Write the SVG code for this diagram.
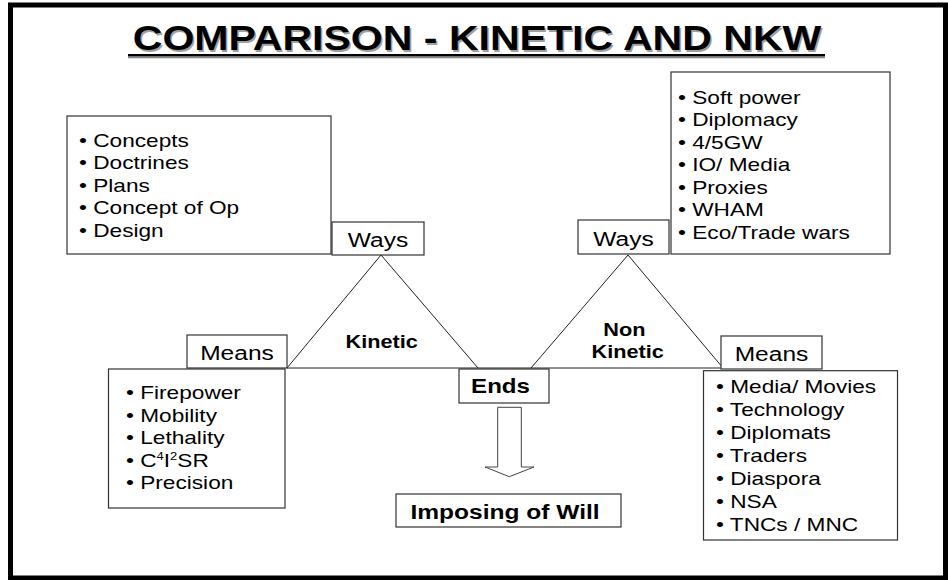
<svg xmlns="http://www.w3.org/2000/svg" width="948" height="580" viewBox="0 0 948 580">
<style>
  .box { fill: #fff; stroke: #333; stroke-width: 1.2; }
  .ln { fill: none; stroke: #222; stroke-width: 1; }
  text { font-family: "Liberation Sans", Arial, sans-serif; fill: #000; }
  .body { font-size: 19.2px; }
  .lbl { font-size: 20.8px; text-anchor: middle; }
  .bold { font-weight: bold; text-anchor: middle; }
  .title { font-size: 34.5px; font-weight: bold; text-anchor: middle; }
</style>
<rect x="0" y="0" width="948" height="580" fill="#fff"/>
<rect x="10.5" y="5" width="935" height="573" fill="none" stroke="#000" stroke-width="5"/>

<g id="title">
  <text class="title" transform="translate(478.5 51.5) scale(1.19 1)" style="fill:#a0a0a0">COMPARISON - KINETIC AND NKW</text>
  <text class="title" transform="translate(477 50) scale(1.19 1)">COMPARISON - KINETIC AND NKW</text>
  <rect x="128" y="56.3" width="697" height="2" fill="#888"/>
  <rect x="128" y="54" width="697" height="2.3" fill="#000"/>
</g>

<g id="connectors">
  <line class="ln" x1="287" y1="368" x2="723" y2="368"/>
  <polyline class="ln" points="287,368 381,255 478,368"/>
  <polyline class="ln" points="531,368 628,255 723,368"/>
  <polygon points="497.7,407.3 521.3,407.3 521.3,467 534,467 509.3,476.7 485,467 497.7,467" fill="#fff" stroke="#444" stroke-width="1"/>
</g>

<g id="ways-kinetic-list">
  <rect class="box" x="67" y="116" width="264" height="138"/>
  <text class="body" transform="translate(79 147) scale(1.18 1)">
    <tspan x="0" y="0">• Concepts</tspan>
    <tspan x="0" y="22.5">• Doctrines</tspan>
    <tspan x="0" y="45">• Plans</tspan>
    <tspan x="0" y="67.5">• Concept of Op</tspan>
    <tspan x="0" y="90">• Design</tspan>
  </text>
</g>

<g id="ways-kinetic">
  <rect class="box" x="332" y="222" width="92" height="33"/>
  <text class="lbl" transform="translate(378 247) scale(1.18 1)">Ways</text>
</g>

<g id="ways-nonkinetic">
  <rect class="box" x="578" y="220" width="91" height="34"/>
  <text class="lbl" transform="translate(623.5 245.5) scale(1.18 1)">Ways</text>
</g>

<g id="ways-nonkinetic-list">
  <rect class="box" x="671" y="72" width="219" height="182"/>
  <text class="body" transform="translate(678 103.5) scale(1.18 1)">
    <tspan x="0" y="0">• Soft power</tspan>
    <tspan x="0" y="22.6">• Diplomacy</tspan>
    <tspan x="0" y="45.2">• 4/5GW</tspan>
    <tspan x="0" y="67.8">• IO/ Media</tspan>
    <tspan x="0" y="90.4">• Proxies</tspan>
    <tspan x="0" y="113">• WHAM</tspan>
    <tspan x="0" y="135.6">• Eco/Trade wars</tspan>
  </text>
</g>

<g id="kinetic-label">
  <text class="bold" style="font-size:18.4px" transform="translate(381.7 348) scale(1.18 1)">Kinetic</text>
</g>

<g id="nonkinetic-label">
  <text class="bold" style="font-size:18.4px" transform="translate(624.3 336) scale(1.18 1)">Non</text>
  <text class="bold" style="font-size:18.4px" transform="translate(627.7 358.3) scale(1.18 1)">Kinetic</text>
</g>

<g id="means-kinetic">
  <rect class="box" x="187" y="335" width="100" height="33"/>
  <text class="lbl" transform="translate(237 360) scale(1.18 1)">Means</text>
</g>

<g id="means-kinetic-list">
  <rect class="box" x="108.5" y="369" width="176.5" height="139"/>
  <text class="body" transform="translate(126 399) scale(1.18 1)">
    <tspan x="0" y="0">• Firepower</tspan>
    <tspan x="0" y="22.6">• Mobility</tspan>
    <tspan x="0" y="45.2">• Lethality</tspan>
    <tspan x="0" y="67.8">• C<tspan dy="-7" style="font-size:11px">4</tspan><tspan dy="7">I</tspan><tspan dy="-7" style="font-size:11px">2</tspan><tspan dy="7">SR</tspan></tspan>
    <tspan x="0" y="90.4">• Precision</tspan>
  </text>
</g>

<g id="means-nonkinetic">
  <rect class="box" x="721" y="336" width="101" height="33"/>
  <text class="lbl" transform="translate(771.5 361) scale(1.18 1)">Means</text>
</g>

<g id="means-nonkinetic-list">
  <rect class="box" x="703.5" y="370.7" width="194" height="169.3"/>
  <text class="body" transform="translate(716 393.3) scale(1.18 1)">
    <tspan x="0" y="0">• Media/ Movies</tspan>
    <tspan x="0" y="22.95">• Technology</tspan>
    <tspan x="0" y="45.9">• Diplomats</tspan>
    <tspan x="0" y="68.85">• Traders</tspan>
    <tspan x="0" y="91.8">• Diaspora</tspan>
    <tspan x="0" y="114.75">• NSA</tspan>
    <tspan x="0" y="137.7">• TNCs / MNC</tspan>
  </text>
</g>

<g id="ends">
  <rect class="box" x="459" y="369" width="90" height="34"/>
  <text class="bold" style="font-size:20.4px" transform="translate(500.5 393) scale(1.18 1)">Ends</text>
</g>

<g id="imposing-of-will">
  <rect class="box" x="396" y="494" width="225" height="33"/>
  <text class="bold" style="font-size:20.8px" transform="translate(505 519) scale(1.18 1)">Imposing of Will</text>
</g>
</svg>
